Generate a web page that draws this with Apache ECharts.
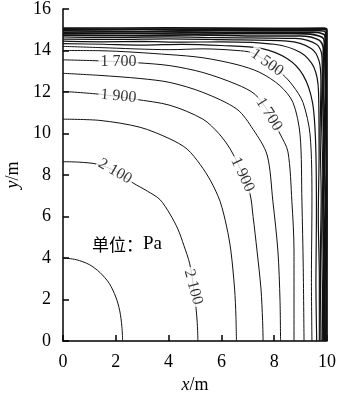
<!DOCTYPE html>
<html>
<head>
<meta charset="utf-8">
<script src="https://cdn.jsdelivr.net/npm/echarts@6/dist/echarts.min.js"></script>
<style>
  html, body { margin: 0; background: #fff; }
  #chart { width: 340px; height: 394px; }
</style>
</head>
<body>
<div id="chart"></div>
<script>
const xTicks = [0, 2, 4, 6, 8, 10];
const yTicks = [0, 2, 4, 6, 8, 10, 12, 14, 16];

// 等压线 (x, y) 点, 单位 m
const p2200 = [[0,4.0],[0.5,3.92],[1.0,3.68],[1.4,3.3],[1.75,2.78],[2.0,2.12],[2.15,1.45],[2.23,0.7],[2.26,0]];
const p2100 = [[0,8.64],[0.6,8.62],[1.3,8.52],[2.0,8.18],[2.65,7.62],[3.2,7.22],[3.67,6.82],[4.05,6.12],[4.35,5.4],[4.58,4.6],[4.8,3.72],[4.96,2.45],[5.06,1.3],[5.1,0.5],[5.11,0]];
const p2000 = [[0,10.69],[1.4,10.63],[2.92,10.3],[4.05,9.74],[4.7,9.25],[5.2,8.5],[5.6,7.7],[5.95,6.73],[6.2,5.5],[6.36,4.34],[6.5,2.5],[6.55,1.2],[6.57,0]];
const p1900 = [[0,12.03],[1.4,11.89],[2.73,11.65],[4.05,11.36],[5.3,10.69],[5.9,10.0],[6.33,9.26],[6.75,8.2],[7.08,7.11],[7.2,6.0],[7.35,4.34],[7.5,2.5],[7.56,1.0],[7.58,0]];
const p1800 = [[0,12.9],[1.4,12.8],[2.92,12.65],[4.05,12.46],[5.3,11.98],[6.59,11.17],[7.2,10.2],[7.73,8.97],[7.95,6.73],[8.14,4.34],[8.22,1.96],[8.24,0]];
const p1700 = [[0,13.55],[1.4,13.5],[2.8,13.41],[4.05,13.27],[5.3,12.94],[6.59,12.36],[7.27,11.89],[7.8,11.0],[8.22,9.98],[8.52,9.12],[8.67,6.73],[8.75,4.34],[8.75,0]];
const p1600 = [[0,14.0],[1.4,13.99],[4.05,13.8],[5.3,13.65],[6.59,13.32],[7.46,12.94],[8.22,12.3],[8.71,11.5],[8.98,9.93],[9.05,6.73],[9.1,3.53],[9.13,0]];
const p1500 = [[0,14.2],[1.4,14.14],[4.05,14.04],[5.3,14.08],[6.59,14.0],[7.16,13.89],[7.73,13.45],[8.33,12.84],[8.71,12.3],[9.09,11.5],[9.36,9.93],[9.43,6.73],[9.41,3.0],[9.43,0]];
const p1400 = [[0,14.33],[1.5,14.3],[3,14.26],[4.5,14.3],[6,14.24],[7.5,14.1],[8.5,13.6],[9.1,12.8],[9.45,11.5],[9.57,9.5],[9.6,6],[9.58,3],[9.61,0]];
const p1300 = [[0,14.45],[1.5,14.42],[3,14.44],[4.5,14.4],[6,14.42],[8,14.3],[9,13.9],[9.5,13.2],[9.68,12],[9.7,9],[9.67,6],[9.71,3],[9.71,0]];
const p1200 = [[0,14.55],[2,14.53],[4,14.56],[6,14.52],[8.5,14.45],[9.4,14.1],[9.7,13.5],[9.77,12.5],[9.74,10],[9.78,7],[9.75,4],[9.77,0]];
const p1100 = [[0,14.65],[2,14.62],[4,14.66],[6,14.62],[8.8,14.58],[9.6,14.3],[9.8,13.8],[9.82,13],[9.79,11],[9.84,8],[9.8,5],[9.83,2],[9.82,0]];
const p1000 = [[0,14.73],[2.5,14.71],[5,14.75],[7.5,14.7],[9,14.7],[9.7,14.5],[9.86,14.1],[9.84,12],[9.88,9],[9.85,6],[9.88,3],[9.86,0]];
const p900  = [[0,14.8],[2.5,14.82],[5,14.79],[7.5,14.82],[9.2,14.8],[9.8,14.65],[9.9,14.4],[9.88,12],[9.92,10],[9.88,7],[9.92,4],[9.89,1],[9.9,0]];
const p800  = [[0,14.88],[3,14.9],[6,14.87],[9.5,14.88],[9.88,14.78],[9.93,14.6],[9.95,12],[9.91,9],[9.95,6],[9.92,3],[9.93,0]];
const p700  = [[0,14.95],[3,14.93],[6,14.96],[9.7,14.95],[9.95,14.85],[9.96,12],[9.98,8],[9.95,5],[9.97,2],[9.96,0]];
const p600  = [[0,15.02],[3,15.03],[6,15.01],[9.8,15.02],[9.98,14.95],[9.98,10],[10,6],[9.98,3],[9.98,0]];
const p500  = [[0,15.08],[4,15.09],[8,15.07],[9.9,15.08],[10,15.0],[10,0]];

const levels = [2200, 2100, 2000, 1900, 1800, 1700, 1600, 1500, 1400, 1300, 1200, 1100, 1000, 900, 800, 700, 600, 500];
const contours = [p2200, p2100, p2000, p1900, p1800, p1700, p1600, p1500, p1400, p1300, p1200, p1100, p1000, p900, p800, p700, p600, p500];

// 等值线标注
const labelText = ['1 700', '1 900', '2 100', '2 100', '1 900', '1 700', '1 500'];
const labelPos = [[2.1,13.46],[2.1,11.8],[1.97,8.17],[4.93,2.6],[6.8,8.02],[7.8,10.93],[7.73,13.42]];
const labelRot = [0, -5, -30, -75, -65, -58, -35];

const serif = '"Liberation Serif", "Times New Roman", serif';

const chart = echarts.init(document.getElementById('chart'));

const series = contours.map((d, i) => ({
  type: 'line',
  name: String(levels[i]),
  data: d,
  showSymbol: false,
  smooth: 0.3,
  silent: true,
  z: 2,
  lineStyle: { color: '#111', width: levels[i] <= 1000 ? 1.6 : (levels[i] <= 1400 ? 1.2 : 1) },
}));

series.push({
  type: 'scatter',
  symbolSize: 1,
  itemStyle: { color: 'rgba(0,0,0,0)' },
  silent: true,
  z: 5,
  data: labelPos.map((p, i) => ({
    value: p,
    label: {
      show: true,
      position: 'inside',
      formatter: labelText[i],
      rotate: labelRot[i],
      fontFamily: serif,
      fontSize: 16,
      color: '#000',
      backgroundColor: '#fff',
      padding: [0, 2],
    },
  })),
});

chart.setOption({
  animation: false,
  grid: { left: 63, right: 13, top: 9, bottom: 53, containLabel: false, outerBoundsMode: 'none' },
  xAxis: {
    type: 'value',
    min: xTicks[0],
    max: xTicks[xTicks.length - 1],
    interval: 2,
    name: '{i|x}/m',
    nameLocation: 'middle',
    nameGap: 31,
    nameTextStyle: {
      fontFamily: serif, fontSize: 18, color: '#000',
      rich: { i: { fontFamily: serif, fontSize: 18, fontStyle: 'italic', color: '#000' } },
    },
    axisLine: { lineStyle: { color: '#000', width: 1.5 } },
    axisTick: { inside: true, length: 6, lineStyle: { color: '#000', width: 1.5 } },
    axisLabel: { fontFamily: serif, fontSize: 18, color: '#000', margin: 12 },
    splitLine: { show: false },
  },
  yAxis: {
    type: 'value',
    min: yTicks[0],
    max: yTicks[yTicks.length - 1],
    interval: 2,
    name: '{i|y}/m',
    nameLocation: 'middle',
    nameGap: 28,
    nameTextStyle: {
      fontFamily: serif, fontSize: 18, color: '#000',
      rich: { i: { fontFamily: serif, fontSize: 18, fontStyle: 'italic', color: '#000' } },
    },
    axisLine: { lineStyle: { color: '#000', width: 1.5 } },
    axisTick: { inside: true, length: 6, lineStyle: { color: '#000', width: 1.5 } },
    axisLabel: { fontFamily: serif, fontSize: 18, color: '#000', margin: 12 },
    splitLine: { show: false },
  },
  graphic: [{
    type: 'text',
    left: 92,
    top: 235,
    style: {
      text: '{c|单位：}{s|Pa}',
      rich: {
        c: { fontFamily: '"Noto Sans CJK SC"', fontSize: 17, fill: '#000' },
        s: { fontFamily: serif, fontSize: 19, fill: '#000' },
      },
    },
  }],
  series: series,
});
</script>
</body>
</html>
